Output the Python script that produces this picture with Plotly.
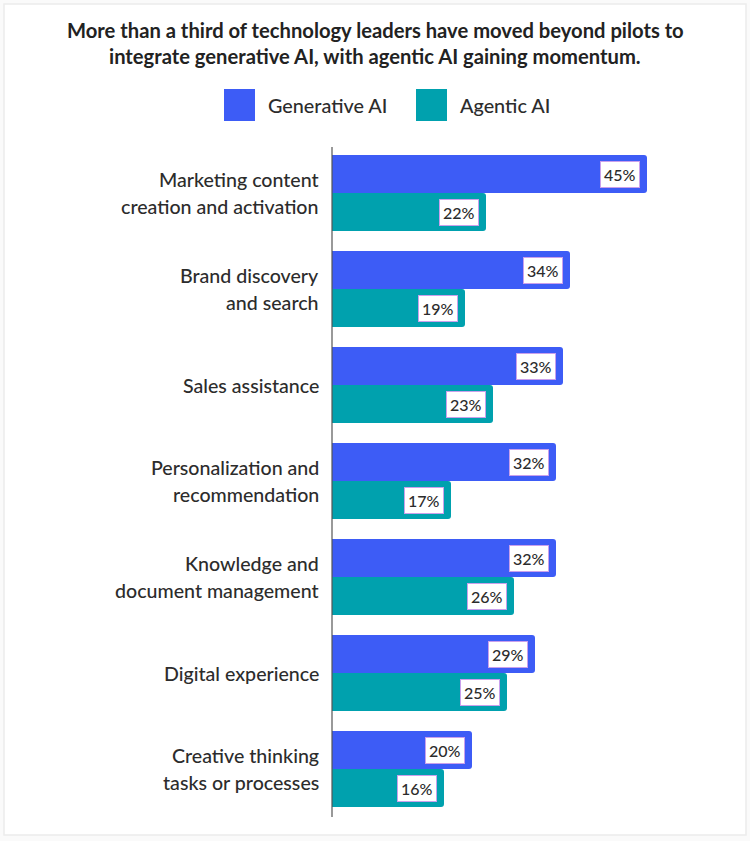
import plotly.graph_objects as go

categories = [
    "Marketing content<br>creation and activation",
    "Brand discovery<br>and search",
    "Sales assistance",
    "Personalization and<br>recommendation",
    "Knowledge and<br>document management",
    "Digital experience",
    "Creative thinking<br>tasks or processes",
]
generative = [45, 34, 33, 32, 32, 29, 20]
agentic = [22, 19, 23, 17, 26, 25, 16]
series_names = ["Generative AI", "Agentic AI"]
colors = ["#3d5cf6", "#00a1ae"]
title_lines = ["More than a third of technology leaders have moved beyond pilots to",
               "integrate generative AI, with agentic AI gaining momentum."]

W, H = 750, 841
ML, MR, MT, MB = 332, 5, 145, 24
PW, PH = W - ML - MR, H - MT - MB

def px(x):
    return (x - ML) / PW

def py(y):
    return 1 - (y - MT) / PH

FONT = "Lato"
TXT = "#2c2c2c"

fig = go.Figure()
for name, vals, col in [(series_names[0], generative, colors[0]), (series_names[1], agentic, colors[1])]:
    fig.add_trace(go.Bar(
        y=categories, x=vals, name=name, orientation="h",
        marker=dict(color=col, line=dict(width=0), cornerradius=3),
        showlegend=False, offsetgroup=name,
    ))

annotations = []
shapes = []

# card background
shapes.append(dict(type="rect", xref="paper", yref="paper",
                   x0=px(4), x1=px(746), y0=py(835), y1=py(4),
                   line=dict(color="#ececec", width=1.5), fillcolor="white",
                   layer="below"))

# axis line
shapes.append(dict(type="line", xref="paper", yref="paper",
                   x0=0, x1=0, y0=py(817), y1=py(147),
                   line=dict(color="#555555", width=1.2)))

# value labels and category labels
for i, cat in enumerate(categories):
    for j, vals in enumerate([generative, agentic]):
        annotations.append(dict(
            x=vals[i], y=cat, xref="x", yref="y",
            text=f"{vals[i]}%", showarrow=False, xanchor="right",
            xshift=-7, yshift=(19 if j == 0 else -19),
            font=dict(family=FONT, size=16, color=TXT, weight=500),
            bgcolor="white", bordercolor="#c9a0ec", borderwidth=1, borderpad=3,
        ))
    lines = cat.split("<br>")
    offs = [0] if len(lines) == 1 else [13.5, -13.5]
    for line, off in zip(lines, offs):
        annotations.append(dict(
            x=px(321), y=cat, xref="paper", yref="y", text=line,
            showarrow=False, xanchor="right", yanchor="middle", yshift=off,
            font=dict(family=FONT, size=19.6, color=TXT, weight=500),
        ))

# title
for k, line in enumerate(title_lines):
    annotations.append(dict(
        x=px(375), y=py(30 + 26 * k), xref="paper", yref="paper",
        text=f"<b>{line}</b>", showarrow=False, align="center",
        xanchor="center", yanchor="middle",
        font=dict(family=FONT, size=20.2, color="#222222"),
    ))

# legend
legend_items = [(series_names[0], colors[0], 224), (series_names[1], colors[1], 416)]
for name, col, x0 in legend_items:
    shapes.append(dict(type="rect", xref="paper", yref="paper",
                       x0=px(x0), x1=px(x0 + 31), y0=py(121), y1=py(89),
                       fillcolor=col, line=dict(width=0)))
    annotations.append(dict(
        x=px(x0 + 42), y=py(105), xref="paper", yref="paper", text=name,
        showarrow=False, xanchor="left", yanchor="middle",
        font=dict(family=FONT, size=19.8, color=TXT, weight=500),
    ))

fig.update_layout(
    width=W, height=H,
    margin=dict(l=ML, r=MR, t=MT, b=MB),
    paper_bgcolor="#fafafa", plot_bgcolor="rgba(0,0,0,0)",
    barmode="group", bargap=0.21, bargroupgap=0,
    xaxis=dict(range=[0, PW / 7], visible=False, fixedrange=True),
    yaxis=dict(autorange="reversed", showticklabels=False, showgrid=False,
               zeroline=False, showline=False, ticks=""),
    annotations=annotations, shapes=shapes,
    font=dict(family=FONT),
)

fig.write_html("out.html")
